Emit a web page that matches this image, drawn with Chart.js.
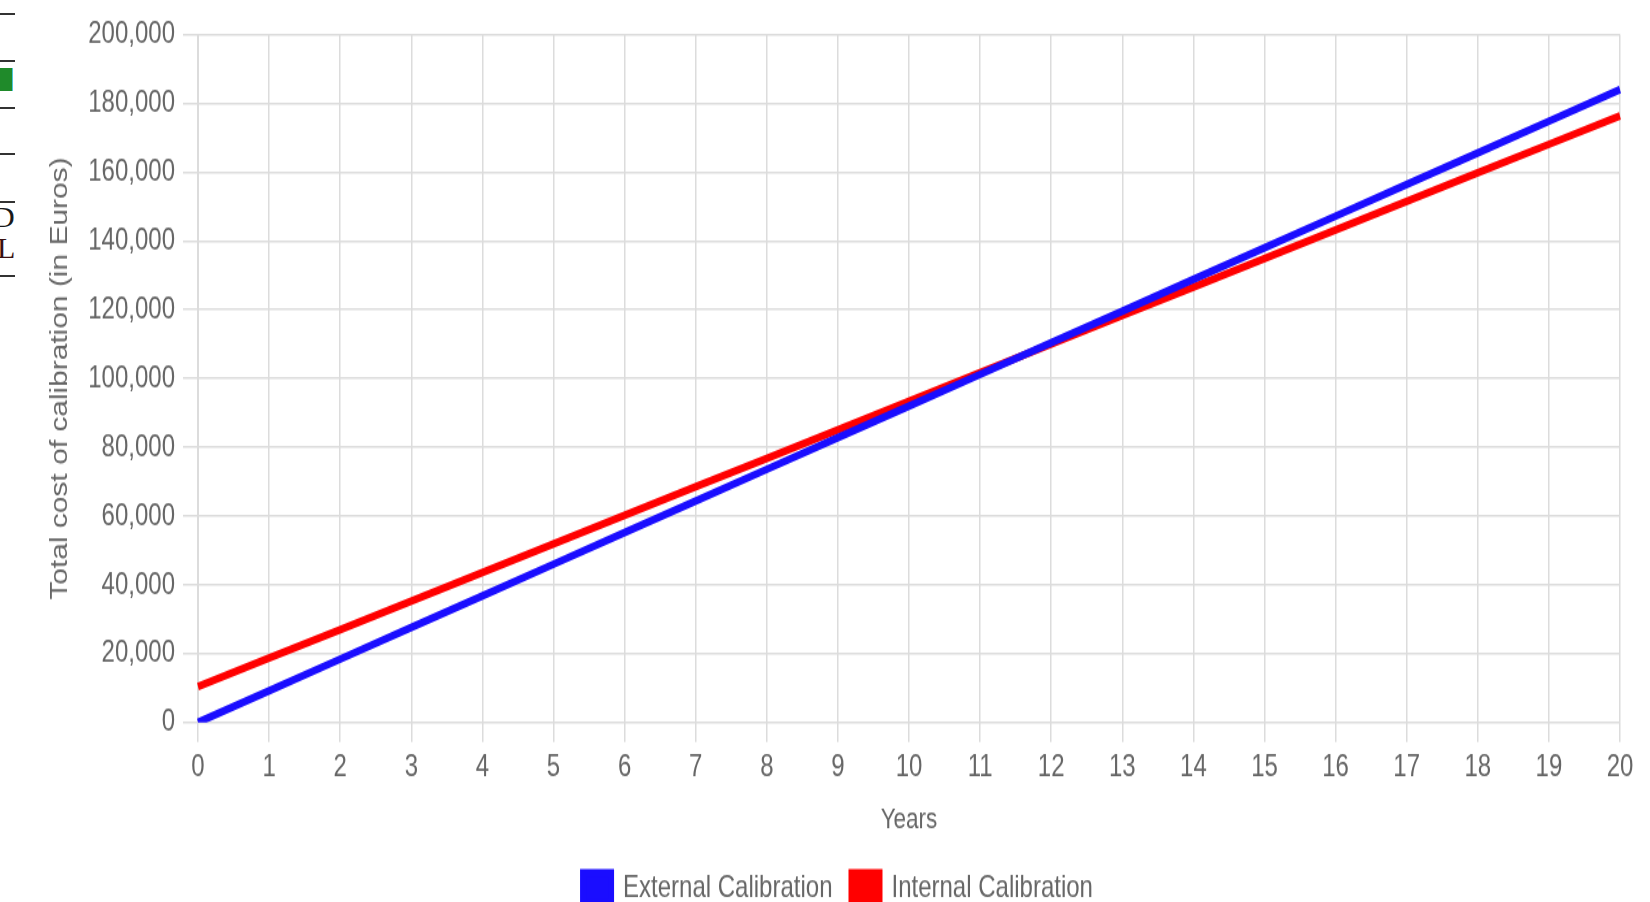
<!DOCTYPE html>
<html>
<head>
<meta charset="utf-8">
<script src="https://cdn.jsdelivr.net/npm/chart.js"></script>
<style>
    html, body { margin: 0; padding: 0; background: #fff; overflow: hidden; }
    #page { position: relative; width: 1650px; height: 902px; overflow: hidden; }
    /* the reference screenshot is stretched vertically */
    #stretch { position: absolute; left: 0; top: 0; width: 1650px; height: 705px; transform: scaleY(1.3); transform-origin: 0 0; }
    .rule { position: absolute; left: 0; width: 15px; height: 2px; background: #333; }
    .edge { position: absolute; font-family: "Liberation Serif", serif; font-size: 30px; line-height: 30px; color: #1a1a1a; }
</style>
</head>
<body>
<div id="page">
    <!-- leftover bits of the neighbouring page on the left edge -->
    <div class="rule" style="top:13px"></div>
    <div class="rule" style="top:60px"></div>
    <div style="position:absolute;left:0;top:68px;width:12px;height:23px;background:#1f8a2a;border-right:1px solid #4cc6d8"></div>
    <div class="rule" style="top:107px"></div>
    <div class="rule" style="top:153px"></div>
    <div class="rule" style="top:201px"></div>
    <div class="edge" style="top:202px;left:-7px">D</div>
    <div class="edge" style="top:233px;left:-3px;color:#3a1010">L</div>
    <div class="rule" style="top:275px"></div>

    <div id="stretch">
        <canvas id="costChart" width="1650" height="705"></canvas>
    </div>
</div>
<script>
    // Data
    const years = ['0', '1', '2', '3', '4', '5', '6', '7', '8', '9', '10',
                   '11', '12', '13', '14', '15', '16', '17', '18', '19', '20'];
    const externalCost = [0, 9200, 18400, 27600, 36800, 46000, 55200, 64400, 73600, 82800, 92000,
                          101200, 110400, 119600, 128800, 138000, 147200, 156400, 165600, 174800, 184000];
    const internalCost = [10400, 18700, 27000, 35300, 43600, 51900, 60200, 68500, 76800, 85100, 93400,
                          101700, 110000, 118300, 126600, 134900, 143200, 151500, 159800, 168100, 176400];
    const yTitle = 'Total cost of calibration (in Euros)';
    const xTitle = 'Years';

    const grey = '#666';
    const gridColor = '#dcdcdc';
    const fontFamily = 'Arial, "Liberation Sans", Helvetica, sans-serif';

    // the legend in the reference sits a little right of centre
    const legendShift = {
        id: 'legendShift',
        afterLayout: function(chart) {
            chart.legend.left += 28;
            chart.legend.right += 28;
        }
    };

    const chart = new Chart(document.getElementById('costChart'), {
        type: 'line',
        data: {
            labels: years,
            datasets: [{
                label: 'External Calibration',
                data: externalCost,
                borderColor: '#1a0dff',
                backgroundColor: '#1a0dff',
                borderWidth: 6,
                pointRadius: 0,
                fill: false,
                tension: 0
            }, {
                label: 'Internal Calibration',
                data: internalCost,
                borderColor: '#ff0000',
                backgroundColor: '#ff0000',
                borderWidth: 6,
                pointRadius: 0,
                fill: false,
                tension: 0
            }]
        },
        options: {
            responsive: false,
            animation: false,
            layout: {
                padding: { left: 0, right: 30, top: 26.6, bottom: 0 }
            },
            plugins: {
                legend: {
                    position: 'bottom',
                    labels: {
                        boxWidth: 28,
                        boxHeight: 23,
                        padding: 19,
                        color: grey,
                        font: { family: fontFamily, size: 24 }
                    }
                },
                tooltip: { enabled: false }
            },
            scales: {
                x: {
                    grid: { color: gridColor, lineWidth: 1.5, tickLength: 15 },
                    border: { color: gridColor },
                    ticks: {
                        color: grey,
                        padding: 5,
                        maxRotation: 0,
                        font: { family: fontFamily, size: 24 }
                    },
                    title: {
                        display: true,
                        text: xTitle,
                        color: grey,
                        padding: { top: 0, bottom: 8 },
                        font: { family: fontFamily, size: 22.5 }
                    },
                    afterFit: function(scale) {
                        scale.height = 96.3;
                    }
                },
                y: {
                    min: 0,
                    max: 200000,
                    grid: { color: gridColor, lineWidth: 1.5, tickLength: 15 },
                    border: { color: gridColor },
                    ticks: {
                        stepSize: 20000,
                        color: grey,
                        padding: 8,
                        font: { family: fontFamily, size: 24 }
                    },
                    title: {
                        display: true,
                        text: yTitle,
                        color: grey,
                        padding: { top: 47, bottom: 0 },
                        font: { family: fontFamily, size: 23 }
                    },
                    afterFit: function(scale) {
                        scale.width = 198;
                    }
                }
            }
        },
        plugins: [legendShift]
    });
</script>
</body>
</html>
